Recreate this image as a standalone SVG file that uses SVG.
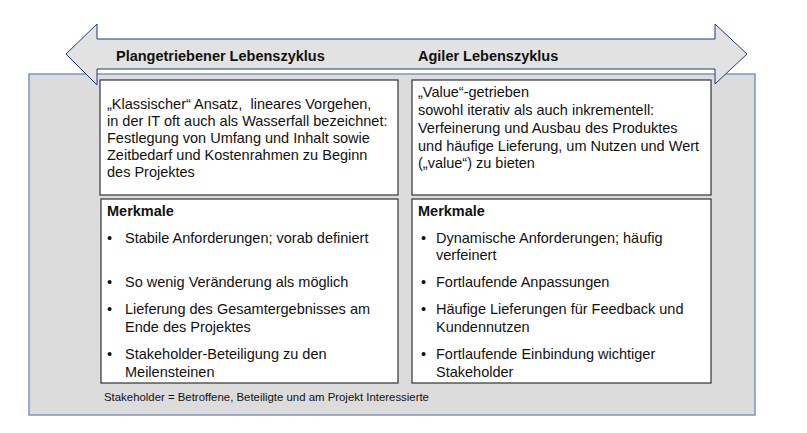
<svg xmlns="http://www.w3.org/2000/svg" width="807" height="433" viewBox="0 0 807 433">
  <style>
    .t { font-family: "Liberation Sans", Arial, sans-serif; font-size: 14.5px; fill: #111; }
    .b { font-weight: bold; }
    .h { font-family: "Liberation Sans", Arial, sans-serif; font-size: 14.5px; font-weight: bold; fill: #111; }
    .note { font-family: "Liberation Sans", Arial, sans-serif; font-size: 11.4px; fill: #111; }
    .box { fill: #ffffff; stroke: #333333; stroke-width: 1.2; }
  </style>

  <!-- background panel -->
  <g id="panel">
    <rect x="29" y="74" width="726" height="341" fill="#dcdcdc" stroke="#7d95c0" stroke-width="1.5"/>
  </g>

  <!-- double-headed lifecycle arrow -->
  <g id="lifecycle-arrow">
    <polygon points="66,54 97,24 97,39 715,39 715,24 747,54 715,84 715,69 97,69 97,85" fill="#e2e2e2" stroke="#1f3a80" stroke-width="1"/>
    <text class="h" x="116" y="61">Plangetriebener Lebenszyklus</text>
    <text class="h" x="418" y="61">Agiler Lebenszyklus</text>
  </g>

  <!-- plan-driven description -->
  <g id="plan-desc">
    <rect class="box" x="100" y="80" width="298" height="115"/>
    <text class="t" x="107" y="109" xml:space="preserve">„Klassischer“ Ansatz,  lineares Vorgehen,</text>
    <text class="t" x="107" y="126">in der IT oft auch als Wasserfall bezeichnet:</text>
    <text class="t" x="107" y="143">Festlegung von Umfang und Inhalt sowie</text>
    <text class="t" x="107" y="160">Zeitbedarf und Kostenrahmen zu Beginn</text>
    <text class="t" x="107" y="177">des Projektes</text>
  </g>

  <!-- agile description -->
  <g id="agile-desc">
    <rect class="box" x="412" y="80" width="299" height="115"/>
    <text class="t" x="418" y="97">„Value“-getrieben</text>
    <text class="t" x="418" y="115">sowohl iterativ als auch inkrementell:</text>
    <text class="t" x="418" y="133">Verfeinerung und Ausbau des Produktes</text>
    <text class="t" x="418" y="151">und häufige Lieferung, um Nutzen und Wert</text>
    <text class="t" x="418" y="168">(„value“) zu bieten</text>
  </g>

  <!-- plan-driven characteristics -->
  <g id="plan-features">
    <rect class="box" x="101" y="199" width="297" height="184"/>
    <text class="t b" x="107" y="216">Merkmale</text>
    <g class="t">
      <text x="107" y="243">•</text>
      <text x="125" y="243">Stabile Anforderungen; vorab definiert</text>
      <text x="107" y="287">•</text>
      <text x="125" y="287">So wenig Veränderung als möglich</text>
      <text x="107" y="314">•</text>
      <text x="125" y="314">Lieferung des Gesamtergebnisses am</text>
      <text x="125" y="332">Ende des Projektes</text>
      <text x="107" y="359">•</text>
      <text x="125" y="359">Stakeholder-Beteiligung zu den</text>
      <text x="125" y="377">Meilensteinen</text>
    </g>
  </g>

  <!-- agile characteristics -->
  <g id="agile-features">
    <rect class="box" x="412" y="199" width="299" height="184"/>
    <text class="t b" x="418" y="216">Merkmale</text>
    <g class="t">
      <text x="421" y="243">•</text>
      <text x="436" y="243">Dynamische Anforderungen; häufig</text>
      <text x="436" y="260">verfeinert</text>
      <text x="421" y="287">•</text>
      <text x="436" y="287">Fortlaufende Anpassungen</text>
      <text x="421" y="314">•</text>
      <text x="436" y="314">Häufige Lieferungen für Feedback und</text>
      <text x="436" y="332">Kundennutzen</text>
      <text x="421" y="359">•</text>
      <text x="436" y="359">Fortlaufende Einbindung wichtiger</text>
      <text x="436" y="377">Stakeholder</text>
    </g>
  </g>

  <!-- footnote -->
  <g id="footnote">
    <text class="note" x="104" y="401">Stakeholder = Betroffene, Beteiligte und am Projekt Interessierte</text>
  </g>
</svg>
